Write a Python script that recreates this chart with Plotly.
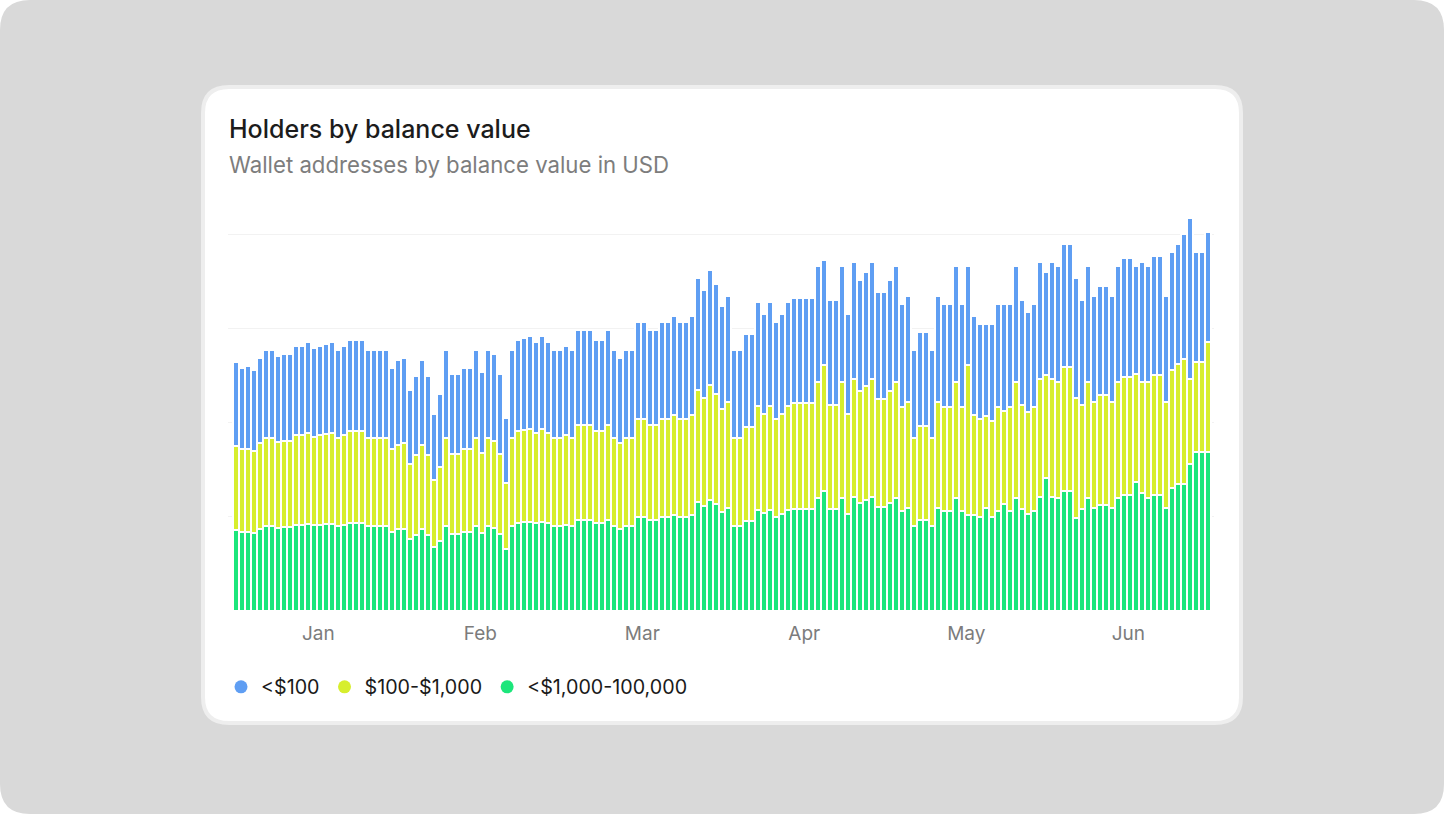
import plotly.graph_objects as go

# ---------------- data ----------------
series_names = ["<$100", "$100-$1,000", "<$1,000-100,000"]
series_colors = ["#5F9EF3", "#D7EE2E", "#1CE67B"]

month_labels = ["Jan", "Feb", "Mar", "Apr", "May", "Jun"]

green = [
    2430, 2380, 2380, 2350, 2460, 2560, 2560, 2500, 2510, 2510,
    2590, 2590, 2620, 2570, 2590, 2610, 2620, 2560, 2590, 2650,
    2650, 2650, 2560, 2560, 2560, 2560, 2370, 2450, 2470, 2150,
    2290, 2450, 2290, 1910, 2110, 2560, 2320, 2320, 2370, 2370,
    2560, 2330, 2550, 2500, 2300, 1860, 2560, 2650, 2660, 2680,
    2630, 2680, 2630, 2560, 2560, 2590, 2560, 2740, 2740, 2740,
    2650, 2650, 2740, 2560, 2470, 2560, 2560, 2830, 2830, 2740,
    2740, 2830, 2830, 2890, 2830, 2830, 2890, 3270, 3150, 3340,
    3210, 2980, 3080, 2550, 2550, 2710, 2710, 3030, 2930, 3030,
    2830, 2910, 3030, 3060, 3060, 3060, 3060, 3390, 3610, 3050,
    3050, 3390, 2910, 3430, 3250, 3330, 3430, 3130, 3130, 3250,
    3390, 3010, 3080, 2550, 2730, 2730, 2550, 3080, 3010, 3010,
    3390, 3010, 2890, 2890, 2810, 3080, 2810, 3000, 3200, 3000,
    3390, 3050, 2920, 3000, 3430, 3990, 3430, 3390, 3610, 3610,
    2790, 3050, 3390, 3080, 3190, 3190, 3080, 3390, 3470, 3470,
    3870, 3530, 3390, 3490, 3490, 3080, 3690, 3810, 3810, 4410,
    4770, 4770, 4770,
]

yellow = [
    2520, 2470, 2490, 2450, 2570, 2640, 2640, 2580, 2600, 2600,
    2680, 2680, 2730, 2660, 2680, 2700, 2730, 2640, 2680, 2740,
    2740, 2740, 2640, 2640, 2640, 2640, 2480, 2540, 2560, 2250,
    2390, 2540, 2390, 2020, 2210, 2640, 2400, 2400, 2480, 2480,
    2640, 2420, 2630, 2610, 2410, 1990, 2640, 2740, 2760, 2790,
    2720, 2790, 2720, 2630, 2630, 2680, 2630, 2850, 2850, 2850,
    2740, 2740, 2850, 2630, 2560, 2630, 2630, 2920, 2920, 2850,
    2850, 2920, 2920, 2980, 2920, 2920, 2980, 3360, 3240, 3450,
    3300, 3070, 3190, 2640, 2640, 2800, 2800, 3120, 2980, 3120,
    2920, 3000, 3120, 3170, 3170, 3170, 3170, 3480, 3760, 3140,
    3140, 3480, 3000, 3520, 3340, 3420, 3520, 3220, 3220, 3340,
    3480, 3100, 3190, 2640, 2820, 2820, 2640, 3190, 3100, 3100,
    3480, 3100, 4500, 2980, 2960, 2770, 2900, 3110, 2790, 3110,
    3480, 3140, 3050, 3110, 3520, 3100, 3520, 3480, 3700, 3700,
    3600, 3140, 3480, 3190, 3280, 3280, 3190, 3480, 3560, 3560,
    3240, 3340, 3480, 3580, 3580, 3190, 3540, 3600, 3740, 2540,
    2700, 2700, 3300,
]

blue = [
    2510, 2430, 2480, 2420, 2560, 2620, 2620, 2570, 2590, 2590,
    2670, 2670, 2710, 2650, 2670, 2690, 2710, 2620, 2670, 2730,
    2730, 2730, 2620, 2620, 2620, 2620, 2430, 2530, 2550, 2220,
    2370, 2530, 2370, 1980, 2190, 2620, 2380, 2380, 2430, 2430,
    2620, 2410, 2640, 2590, 2390, 1930, 2620, 2730, 2760, 2770,
    2710, 2770, 2710, 2630, 2630, 2670, 2630, 2830, 2830, 2830,
    2730, 2730, 2830, 2630, 2550, 2630, 2630, 2910, 2910, 2830,
    2830, 2910, 2910, 2970, 2910, 2910, 2970, 3350, 3230, 3430,
    3290, 3090, 3170, 2630, 2630, 2790, 2790, 3110, 2990, 3110,
    2910, 2990, 3110, 3150, 3150, 3150, 3150, 3470, 3150, 3130,
    3130, 3470, 2990, 3510, 3330, 3410, 3510, 3210, 3210, 3330,
    3470, 3090, 3170, 2630, 2810, 2810, 2630, 3170, 3090, 3090,
    3470, 3090, 2950, 2970, 2830, 2750, 2890, 3090, 3210, 3090,
    3470, 3130, 2990, 3090, 3510, 3070, 3510, 3470, 3690, 3690,
    3590, 3130, 3470, 3170, 3270, 3270, 3170, 3470, 3550, 3550,
    3230, 3590, 3470, 3570, 3570, 3170, 3530, 3590, 3750, 4830,
    3290, 3290, 3290,
]

days = list(range(1, len(green) + 1))

# ---------------- geometry helpers (figure pixels -> paper) ----------------
W, H = 1444, 814
L, R, T, B = 228, 230, 216, 203
PW, PH = W - L - R, H - T - B


def px(x):
    return (x - L) / PW


def py(y):
    return (H - B - y) / PH


def rrect(x0, y0, x1, y1, r):
    pts = [
        f"M {px(x0 + r)} {py(y0)}",
        f"L {px(x1 - r)} {py(y0)}",
        f"Q {px(x1)} {py(y0)} {px(x1)} {py(y0 + r)}",
        f"L {px(x1)} {py(y1 - r)}",
        f"Q {px(x1)} {py(y1)} {px(x1 - r)} {py(y1)}",
        f"L {px(x0 + r)} {py(y1)}",
        f"Q {px(x0)} {py(y1)} {px(x0)} {py(y1 - r)}",
        f"L {px(x0)} {py(y0 + r)}",
        f"Q {px(x0)} {py(y0)} {px(x0 + r)} {py(y0)}",
        "Z",
    ]
    return " ".join(pts)


FONT = "Inter, 'Noto Sans', sans-serif"

fig = go.Figure()

# stacked bars: bottom to top
for vals, name, color in [
    (green, series_names[2], series_colors[2]),
    (yellow, series_names[1], series_colors[1]),
    (blue, series_names[0], series_colors[0]),
]:
    fig.add_trace(
        go.Bar(
            x=days,
            y=vals,
            name=name,
            marker=dict(color=color, line=dict(color="white", width=2)),
            showlegend=False,
            hovertemplate="%{y}<extra>" + name + "</extra>",
        )
    )

# legend entries as round dots
for name, color in zip(series_names, series_colors):
    fig.add_trace(
        go.Scatter(
            x=[None],
            y=[None],
            mode="markers",
            name=name,
            marker=dict(color=color, size=13, symbol="circle"),
            showlegend=True,
        )
    )

pitch = 6.0  # pixels per day
x0 = 1 - (235.5 - L) / pitch
x1 = x0 + PW / pitch

tick_start, tick_step = 14.8, 27.0
tickvals = [tick_start + i * tick_step for i in range(len(month_labels))]

grid_step = 2820
fig.update_layout(
    width=W,
    height=H,
    margin=dict(l=L, r=R, t=T, b=B, pad=0),
    paper_bgcolor="white",
    plot_bgcolor="rgba(0,0,0,0)",
    barmode="stack",
    bargap=0,
    barcornerradius=2,
    font=dict(family=FONT, color="#1a1a1a"),
    xaxis=dict(
        range=[x0, x1],
        tickmode="array",
        tickvals=tickvals,
        ticktext=month_labels,
        showgrid=False,
        zeroline=False,
        showline=False,
        ticks="",
        ticklabelstandoff=9,
        tickfont=dict(family=FONT, size=19, color="#7c7c7c"),
        fixedrange=True,
    ),
    yaxis=dict(
        range=[0, 11844],
        tickmode="array",
        tickvals=[grid_step * i for i in range(1, 5)],
        showticklabels=False,
        showgrid=True,
        gridcolor="#f2f2f2",
        gridwidth=1,
        zeroline=False,
        showline=False,
        fixedrange=True,
    ),
    legend=dict(
        orientation="h",
        traceorder="normal",
        x=px(221),
        y=py(687),
        xanchor="left",
        yanchor="middle",
        font=dict(family=FONT, size=19.7, color="#1a1a1a"),
        bgcolor="rgba(0,0,0,0)",
        itemclick=False,
        itemdoubleclick=False,
    ),
    shapes=[
        dict(
            type="path",
            xref="paper",
            yref="paper",
            path=rrect(0, 0, W, H, 30),
            fillcolor="#d9d9d9",
            line=dict(width=0),
            layer="below",
        ),
        dict(
            type="path",
            xref="paper",
            yref="paper",
            path=rrect(203, 87, 1241, 723, 26),
            fillcolor="white",
            line=dict(color="#eeeeee", width=4),
            layer="below",
        ),
    ],
    annotations=[
        dict(
            text="Holders by balance value",
            xref="paper",
            yref="paper",
            x=px(227),
            y=py(129),
            xanchor="left",
            yanchor="middle",
            showarrow=False,
            font=dict(family=FONT, size=25, color="#1c1c1c", weight=500),
        ),
        dict(
            text="Wallet addresses by balance value in USD",
            xref="paper",
            yref="paper",
            x=px(227),
            y=py(164),
            xanchor="left",
            yanchor="middle",
            showarrow=False,
            font=dict(family=FONT, size=22.2, color="#7d7d7d"),
        ),
    ],
)

fig.write_html(
    "out.html",
    config={"displayModeBar": False},
    post_script="document.body.style.margin='0';document.body.style.overflow='hidden';",
)
